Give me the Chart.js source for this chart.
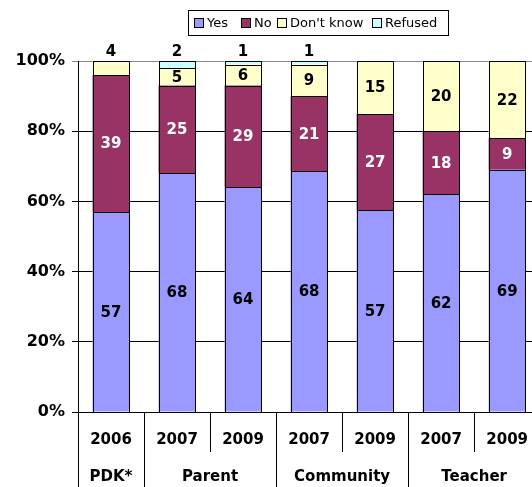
<!DOCTYPE html>
<html>
<head>
<meta charset="utf-8">
<script src="https://cdn.jsdelivr.net/npm/chart.js@4/dist/chart.umd.min.js"></script>
<style>
  html, body { margin: 0; padding: 0; background: #fff; overflow: hidden; }
  #wrap { width: 547px; height: 487px; }
</style>
</head>
<body>
<div id="wrap"><canvas id="c" width="547" height="487"></canvas></div>
<script>
// Survey responses (percent) by respondent group and year
const years = ['2006', '2007', '2009', '2007', '2009', '2007', '2009'];
const groups = ['PDK*', 'Parent', 'Community', 'Teacher'];
const groupSpans = [1, 2, 2, 2];

const yesVals      = [57, 68, 64, 68, 57, 62, 69];
const noVals       = [39, 25, 29, 21, 27, 18, 9];
const dontKnowVals = [4, 5, 6, 9, 15, 20, 22];
const refusedVals  = [null, 2, 1, 1, null, null, null];

const seriesNames  = ['Yes', 'No', "Don't know", 'Refused'];
const seriesColors = ['#9999FF', '#993366', '#FFFFCC', '#CCFFFF'];
const labelColors  = ['#000', '#fff', '#000', '#000'];

const yTickValues = [0, 20, 40, 60, 80, 100];

const FONT = 'DejaVu Sans';

// 100% stacked: each column is scaled to its own total
const rawSeries = [yesVals, noVals, dontKnowVals, refusedVals];
const totals = years.map((_, i) => rawSeries.reduce((s, arr) => s + (arr[i] || 0), 0));
const shareOf = arr => arr.map((v, i) => v == null ? null : v / totals[i] * 100);

const datasets = rawSeries.map((arr, d) => ({
  label: seriesNames[d],
  data: shareOf(arr),
  rawValues: arr,
  backgroundColor: seriesColors[d],
  borderWidth: 0,
  inflateAmount: 0,
  barThickness: 37
}));

// Crisp black outline around every stacked segment
const segmentOutlines = {
  id: 'segmentOutlines',
  afterDatasetsDraw(chart) {
    const ctx = chart.ctx;
    ctx.save();
    ctx.strokeStyle = '#000';
    ctx.lineWidth = 1;
    chart.data.datasets.forEach((ds, d) => {
      const meta = chart.getDatasetMeta(d);
      meta.data.forEach((el, i) => {
        if (ds.rawValues[i] == null) return;
        const half = el.width / 2;
        const l = Math.round(el.x - half);
        const r = Math.round(el.x + half);
        const t = Math.round(Math.min(el.y, el.base));
        const b = Math.round(Math.max(el.y, el.base));
        ctx.strokeRect(l + 0.5, t + 0.5, r - l - 1, b - t);
      });
    });
    ctx.restore();
  }
};

// Value labels: centred in each segment, small top segments sit above the column
const valueLabels = {
  id: 'valueLabels',
  afterDatasetsDraw(chart) {
    const ctx = chart.ctx;
    const top = chart.chartArea.top;
    ctx.save();
    ctx.font = 'bold 15px "' + FONT + '"';
    ctx.textAlign = 'center';
    ctx.textBaseline = 'middle';
    chart.data.datasets.forEach((ds, d) => {
      const meta = chart.getDatasetMeta(d);
      meta.data.forEach((el, i) => {
        const v = ds.rawValues[i];
        if (v == null || v === 0) return;
        if (v < 5) {
          ctx.fillStyle = '#000';
          ctx.fillText(String(v), el.x, top - 9);
        } else {
          ctx.fillStyle = labelColors[d];
          ctx.fillText(String(v), el.x, (el.y + el.base) / 2 + 1);
        }
      });
    });
    ctx.restore();
  }
};

// Category dividers below the axis and the group names row
const groupAxis = {
  id: 'groupAxis',
  afterDraw(chart) {
    const ctx = chart.ctx;
    const xs = chart.scales.x;
    const area = chart.chartArea;
    const n = years.length;
    const px = i => xs.getPixelForValue(i);
    const boundary = i => i === 0 ? area.left : (i === n ? area.right : (px(i - 1) + px(i)) / 2);
    const al = x => Math.round(x) + 0.5;

    const groupEdges = [0];
    groupSpans.forEach(s => groupEdges.push(groupEdges[groupEdges.length - 1] + s));

    ctx.save();
    ctx.strokeStyle = '#000';
    ctx.lineWidth = 1;
    for (let i = 0; i <= n; i++) {
      const isGroupEdge = groupEdges.includes(i);
      const x = al(boundary(i));
      ctx.beginPath();
      ctx.moveTo(x, area.bottom);
      ctx.lineTo(x, isGroupEdge ? 487 : 452);
      ctx.stroke();
    }
    ctx.fillStyle = '#000';
    ctx.font = 'bold 15px "' + FONT + '"';
    ctx.textAlign = 'center';
    ctx.textBaseline = 'middle';
    groups.forEach((g, k) => {
      const a = boundary(groupEdges[k]);
      const b = boundary(groupEdges[k + 1]);
      ctx.fillText(g, (a + b) / 2, 477);
    });
    ctx.restore();
  }
};

// Boxed legend across the top
const legendItemX = [194, 241, 277, 372];
const boxedLegend = {
  id: 'boxedLegend',
  afterDraw(chart) {
    const ctx = chart.ctx;
    ctx.save();
    ctx.fillStyle = '#fff';
    ctx.fillRect(188.5, 10.5, 260, 25);
    ctx.strokeStyle = '#000';
    ctx.lineWidth = 1;
    ctx.strokeRect(188.5, 10.5, 260, 25);
    ctx.font = '13px "' + FONT + '"';
    ctx.textAlign = 'left';
    ctx.textBaseline = 'middle';
    seriesNames.forEach((name, d) => {
      const x = legendItemX[d];
      ctx.fillStyle = seriesColors[d];
      ctx.fillRect(x + 0.5, 18.5, 9, 9);
      ctx.strokeStyle = '#000';
      ctx.strokeRect(x + 0.5, 18.5, 9, 9);
      ctx.fillStyle = '#000';
      ctx.fillText(name, x + 13, 23.5);
    });
    ctx.restore();
  }
};

const xTickFont = { family: FONT, size: 15, weight: 'bold' };
const yTickFont = { family: FONT, size: 16, weight: 'bold' };
const gridColor = ctx => (ctx.tick && ctx.tick.value === 100) ? '#888' : '#000';

new Chart(document.getElementById('c'), {
  type: 'bar',
  data: { labels: years, datasets },
  options: {
    responsive: false,
    animation: false,
    devicePixelRatio: 1,
    layout: { padding: { top: 61, left: 0, right: 0, bottom: 0 } },
    plugins: { legend: { display: false }, tooltip: { enabled: false } },
    scales: {
      x: {
        stacked: true,
        offset: true,
        grid: { display: false, drawTicks: false, tickLength: 0 },
        border: { display: true, color: '#000', width: 1 },
        ticks: { padding: 19, color: '#000', font: xTickFont, autoSkip: false, maxRotation: 0 },
        afterFit(s) { s.height = 75; }
      },
      y: {
        stacked: true,
        min: 0,
        max: 100,
        afterBuildTicks(s) { s.ticks = yTickValues.map(v => ({ value: v })); },
        ticks: { padding: 7, color: '#000', font: yTickFont, callback: v => v + '%' },
        grid: { color: gridColor, tickColor: gridColor, tickLength: 6, lineWidth: 1 },
        border: { color: '#000', width: 1 },
        afterFit(s) { s.width = 78; }
      }
    }
  },
  plugins: [segmentOutlines, valueLabels, groupAxis, boxedLegend]
});
</script>
</body>
</html>
